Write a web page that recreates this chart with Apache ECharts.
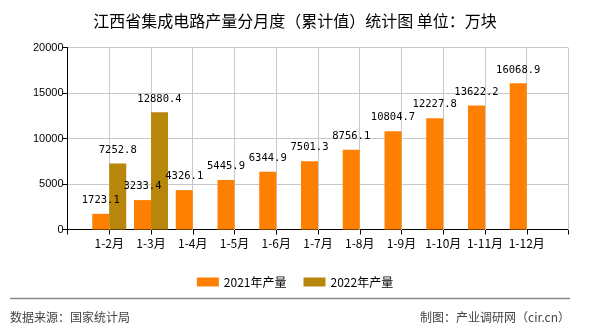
<!DOCTYPE html>
<html>
<head>
<meta charset="utf-8">
<script src="https://cdn.jsdelivr.net/npm/echarts@6/dist/echarts.min.js"></script>
<style>
html,body{margin:0;padding:0;background:#fff;}
#chart{width:590px;height:330px;}
</style>
</head>
<body>
<div id="chart"></div>
<script>
var categories = ['', '1-2月', '1-3月', '1-4月', '1-5月', '1-6月', '1-7月', '1-8月', '1-9月', '1-10月', '1-11月', '1-12月', ''];
var values2021 = [null, 1723.1, 3233.4, 4326.1, 5445.9, 6344.9, 7501.3, 8756.1, 10804.7, 12227.8, 13622.2, 16068.9, null];
var values2022 = [null, 7252.8, 12880.4, null, null, null, null, null, null, null, null, null, null];
var seriesNames = ['2021年产量', '2022年产量'];
var yTicks = { min: 0, max: 20000, interval: 5000 };

var chart = echarts.init(document.getElementById('chart'));
var labelStyle = {
  show: true,
  position: 'top',
  distance: 8,
  color: '#000',
  fontSize: 10.5,
  fontFamily: 'DejaVu Sans Mono, monospace'
};
var footer = [
  { type: 'line', id: 'rule', shape: { x1: 10, y1: 298.5, x2: 570, y2: 298.5 }, style: { stroke: '#888', lineWidth: 1.5 } },
  { type: 'text', id: 'src', left: 10, top: 311, style: { text: '数据来源：国家统计局', fontSize: 12, fill: '#444', fontFamily: 'Noto Sans CJK SC' } },
  { type: 'text', id: 'by', right: 20, top: 311, style: { text: '制图：产业调研网（cir.cn）', fontSize: 12, fill: '#444', fontFamily: 'Noto Sans CJK SC' } }
];
chart.setOption({
  animation: false,
  title: {
    text: '江西省集成电路产量分月度（累计值）统计图 单位：万块',
    left: 'center',
    top: 8,
    textStyle: { fontSize: 16, fontWeight: 'normal', color: '#000', fontFamily: 'Noto Sans CJK SC' }
  },
  legend: {
    data: seriesNames,
    left: 'center',
    top: 271,
    itemWidth: 22,
    itemHeight: 9,
    itemGap: 17,
    icon: 'rect',
    textStyle: { fontSize: 12, color: '#000', fontFamily: 'Noto Sans CJK SC' }
  },
  grid: { left: 67.5, right: 21.5, top: 47.5, bottom: 100.5 },
  xAxis: {
    type: 'category',
    data: categories,
    boundaryGap: false,
    axisLine: { lineStyle: { color: '#000', width: 1 } },
    axisTick: { show: true, length: 5, interval: 0, lineStyle: { color: '#000' } },
    axisLabel: { color: '#000', fontSize: 12, margin: 8, interval: 0, fontFamily: 'Noto Sans CJK SC' },
    splitLine: { show: false }
  },
  yAxis: {
    type: 'value',
    min: yTicks.min,
    max: yTicks.max,
    interval: yTicks.interval,
    axisLine: { show: true, lineStyle: { color: '#000', width: 1 } },
    axisTick: { show: true, length: 5, lineStyle: { color: '#000' } },
    axisLabel: { color: '#000', fontSize: 11, margin: 4, fontFamily: 'Liberation Sans', formatter: function (v) { return String(v); } },
    splitLine: { show: true, lineStyle: { color: '#c8c8c8' } }
  },
  series: [
    {
      name: seriesNames[0],
      type: 'bar',
      data: values2021,
      barWidth: 17,
      barGap: '0%',
      z: 5,
      itemStyle: { color: '#ff8000' },
      label: labelStyle
    },
    {
      name: seriesNames[1],
      type: 'bar',
      data: values2022,
      barWidth: 17,
      barGap: '0%',
      z: 5,
      itemStyle: { color: '#b8860b' },
      label: labelStyle
    }
  ],
  graphic: footer
});

// vertical grid lines at each category tick, positioned by the library's own axis
var yTop = Math.round(chart.convertToPixel({ yAxisIndex: 0 }, yTicks.max));
var yBottom = Math.round(chart.convertToPixel({ yAxisIndex: 0 }, yTicks.min));
var vLines = [];
for (var i = 1; i < categories.length; i++) {
  var px = chart.convertToPixel({ xAxisIndex: 0 }, i);
  var x = Math.floor(px) + 0.5;
  vLines.push({
    type: 'rect',
    id: 'vgrid' + i,
    z: 3,
    silent: true,
    shape: { x: Math.floor(px), y: yTop, width: 1, height: yBottom - yTop },
    style: { fill: '#c8c8c8' }
  });
}
chart.setOption({ graphic: footer.concat(vLines) });
</script>
</body>
</html>
